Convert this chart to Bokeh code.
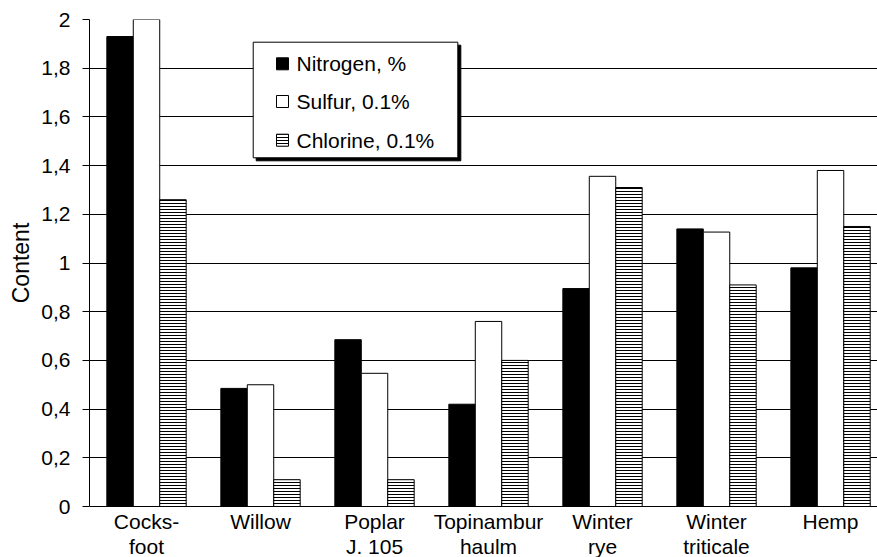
from bokeh.plotting import figure
from bokeh.models import FixedTicker, Range1d, ColumnDataSource
from bokeh.core.properties import value
from bokeh.transform import dodge
from bokeh.embed import file_html
from bokeh.resources import INLINE

# ---- data ----
categories = ["Cocks-\nfoot", "Willow", "Poplar\nJ. 105", "Topinambur\nhaulm",
              "Winter\nrye", "Winter\ntriticale", "Hemp"]
nitrogen = [1.93, 0.485, 0.685, 0.42, 0.895, 1.14, 0.98]
sulfur = [2.2, 0.50, 0.547, 0.76, 1.356, 1.127, 1.38]
chlorine = [1.26, 0.11, 0.11, 0.60, 1.31, 0.91, 1.15]
series_names = ["Nitrogen, %", "Sulfur, 0.1%", "Chlorine, 0.1%"]
y_ticks = [0, 0.2, 0.4, 0.6, 0.8, 1.0, 1.2, 1.4, 1.6, 1.8, 2.0]
y_tick_labels = ["0", "0,2", "0,4", "0,6", "0,8", "1", "1,2", "1,4", "1,6", "1,8", "2"]
y_title = "Content"

FONT = "Liberation Sans"
xs = list(range(len(categories)))
src = ColumnDataSource(dict(x=xs, n=nitrogen, s=sulfur, c=chlorine))

p = figure(width=877, height=557, frame_width=788, frame_height=487,
           x_range=Range1d(-0.5, 6.412), y_range=Range1d(0, 2),
           output_backend="svg", toolbar_location=None,
           min_border_left=89, min_border_right=0, min_border_top=19, min_border_bottom=51)
p.outline_line_color = None
p.background_fill_color = "white"

# grid
p.xgrid.visible = False
p.ygrid.ticker = FixedTicker(ticks=y_ticks)
p.ygrid.grid_line_color = "black"
p.ygrid.grid_line_width = 1

# y axis
ya = p.yaxis[0]
ya.ticker = FixedTicker(ticks=y_ticks)
ya.major_label_overrides = {t: l for t, l in zip(y_ticks, y_tick_labels)}
ya.axis_label = y_title
ya.axis_label_text_font = FONT
ya.axis_label_text_font_size = "23px"
ya.axis_label_text_font_style = "normal"
ya.axis_label_text_color = "black"
ya.axis_label_standoff = 4
ya.major_label_text_font = FONT
ya.major_label_text_font_size = "21px"
ya.major_label_text_color = "black"
ya.major_label_standoff = 12
ya.major_tick_out = 7
ya.major_tick_in = 0
ya.minor_tick_line_color = None
ya.axis_line_color = "black"
ya.major_tick_line_color = "black"

# x axis
xa = p.xaxis[0]
xa.ticker = FixedTicker(ticks=xs)
xa.major_label_overrides = {i: c for i, c in zip(xs, categories)}
xa.major_label_text_font = FONT
xa.major_label_text_font_size = "21px"
xa.major_label_text_color = "black"
xa.major_label_text_line_height = 1.12
xa.major_label_standoff = -3
xa.major_tick_line_color = None
xa.minor_tick_line_color = None
xa.axis_line_color = "black"

# bars
W = 0.232
p.vbar(x=dodge("x", -W, range=p.x_range), top="n", width=W, source=src,
       fill_color="black", line_color="black", line_width=1)
p.vbar(x=dodge("x", 0, range=p.x_range), top="s", width=W, source=src,
       fill_color="white", line_color="black", line_width=1)
p.vbar(x=dodge("x", W, range=p.x_range), top="c", width=W, source=src,
       fill_color="white", line_color="black", line_width=1,
       hatch_pattern="horizontal_line", hatch_color="black", hatch_scale=3, hatch_weight=1)

# legend (manual; layout positions in page pixels converted to data units)
def dx(px):
    return (px - 146.0) / 114.0

def dy(py):
    return (506.0 - py) / 243.5

bl, br, bt, bb = 252.7, 457.3, 41.7, 157.3
p.quad(left=[dx(bl + 3)], right=[dx(br + 3)], top=[dy(bt + 3)], bottom=[dy(bb + 3)],
       fill_color="black", line_color="black")
p.quad(left=[dx(bl)], right=[dx(br)], top=[dy(bt)], bottom=[dy(bb)],
       fill_color="white", line_color="black", line_width=1)
ly = [63.3, 101.0, 139.7]
sw_x = [dx(282)] * 3
sw_y = [dy(v) for v in ly]
p.rect(x=[sw_x[0]], y=[sw_y[0]], width=12, height=12, width_units="screen", height_units="screen",
       fill_color="black", line_color="black")
p.rect(x=[sw_x[1]], y=[sw_y[1]], width=12, height=12, width_units="screen", height_units="screen",
       fill_color="white", line_color="black")
p.rect(x=[sw_x[2]], y=[sw_y[2]], width=12, height=12, width_units="screen", height_units="screen",
       fill_color="white", line_color="black",
       hatch_pattern="horizontal_line", hatch_color="black", hatch_scale=3, hatch_weight=1)
p.text(x=[dx(296)] * 3, y=sw_y, text=series_names, text_font=value(FONT),
       text_font_size="21px", text_baseline="middle", text_align="left", text_color="black")

open("out.html", "w").write(file_html(p, INLINE))
